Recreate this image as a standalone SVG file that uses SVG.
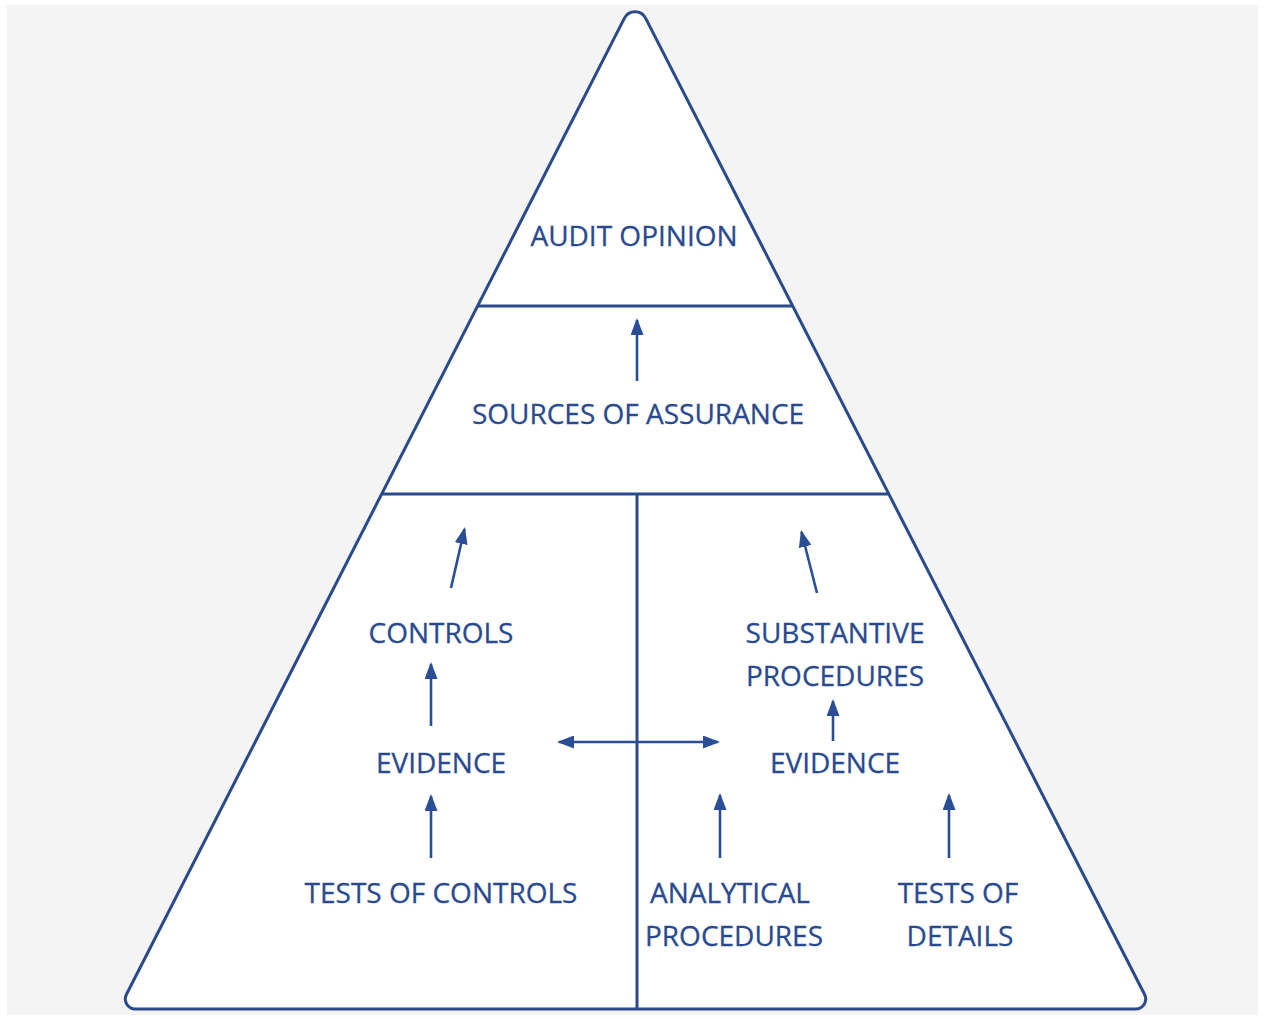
<svg xmlns="http://www.w3.org/2000/svg" width="1264" height="1019" viewBox="0 0 1264 1019">
<style>
.t{font-family:"Open Sans","Noto Sans",sans-serif;font-size:28px;fill:#2a4a90;text-anchor:middle;stroke:#2a4a90;stroke-width:0.3}
.ln{stroke:#2a4a8c;stroke-width:3;fill:none}
.ar{stroke:#2a4e96;stroke-width:2.6;fill:none;marker-end:url(#ah)}
</style>
<defs>
<marker id="ah" viewBox="0 0 17 13" refX="15" refY="6.5" markerWidth="17" markerHeight="13" markerUnits="userSpaceOnUse" orient="auto-start-reverse">
<path d="M0,0 L17,6.5 L0,13 Z" fill="#2a4e96"/>
</marker>
</defs>
<rect width="1264" height="1019" fill="#ffffff"/>
<rect x="7" y="5" width="1251" height="1010" fill="#f4f4f4"/>
<g id="pyramid">
<path d="M624.3 18.4 A12 12 0 0 1 645.7 18.4 L1144.6 994.5 A10 10 0 0 1 1135.7 1009 L135.3 1009 A10 10 0 0 1 126.4 994.5 Z" fill="#ffffff" stroke="#2a4a8c" stroke-width="3"/>
<line class="ln" x1="477.6" y1="306" x2="792.4" y2="306"/>
<line class="ln" x1="381.7" y1="494" x2="888.5" y2="494"/>
<line class="ln" x1="637" y1="494" x2="637" y2="1009"/>
</g>
<g id="audit-opinion"><text class="t" x="634" y="246">AUDIT OPINION</text></g>
<g id="sources"><text class="t" x="638" y="424">SOURCES OF ASSURANCE</text></g>
<g id="controls"><text class="t" x="441" y="643">CONTROLS</text></g>
<g id="substantive"><text class="t" x="835" y="643">SUBSTANTIVE</text><text class="t" x="835" y="686">PROCEDURES</text></g>
<g id="evidence-left"><text class="t" x="441" y="773">EVIDENCE</text></g>
<g id="evidence-right"><text class="t" x="835" y="773">EVIDENCE</text></g>
<g id="tests-controls"><text class="t" x="441" y="903">TESTS OF CONTROLS</text></g>
<g id="analytical"><text class="t" x="730" y="903">ANALYTICAL</text><text class="t" x="734" y="946">PROCEDURES</text></g>
<g id="tests-details"><text class="t" x="958" y="903">TESTS OF</text><text class="t" x="960" y="946">DETAILS</text></g>
<g id="connectors">
<line class="ar" x1="637" y1="381" x2="637" y2="320"/>
<line class="ar" x1="451" y1="588" x2="464.5" y2="529"/>
<line class="ar" x1="817" y1="593" x2="801.5" y2="532"/>
<line class="ar" x1="431" y1="726" x2="431" y2="664"/>
<line class="ar" x1="431" y1="858" x2="431" y2="796"/>
<line class="ar" x1="833" y1="741" x2="833" y2="701"/>
<line class="ar" x1="559" y1="742" x2="718" y2="742" style="marker-start:url(#ah)"/>
<line class="ar" x1="720" y1="858" x2="720" y2="795"/>
<line class="ar" x1="949" y1="858" x2="949" y2="795"/>
</g>
</svg>
